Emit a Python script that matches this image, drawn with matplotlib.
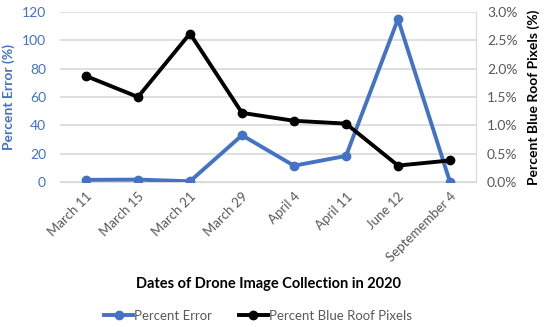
import matplotlib
matplotlib.use("Agg")
import matplotlib.pyplot as plt
from matplotlib.ticker import PercentFormatter

plt.rcParams['font.family'] = ['Lato', 'DejaVu Sans']

dates = ["March 11", "March 15", "March 21", "March 29", "April 4", "April 11", "June 12", "Septemember 4"]
percent_error = [1.5, 1.7, 0.5, 33, 11.5, 18.4, 115, 0]
blue_roof_pct = [1.87, 1.50, 2.62, 1.22, 1.08, 1.03, 0.29, 0.38]

blue = "#4472C4"
grey = "#595959"

fig = plt.figure(figsize=(5.5, 3.27), dpi=100)
ax = fig.add_axes([60/550, 1-182/327, 416/550, 170/327])
ax2 = ax.twinx()

x = list(range(len(dates)))
l1, = ax.plot(x, percent_error, color=blue, lw=2.8, marker='o', ms=6, label="Percent Error", zorder=3)
l2, = ax2.plot(x, blue_roof_pct, color='black', lw=2.8, marker='o', ms=6, label="Percent Blue Roof Pixels", zorder=3)

ax.set_xlim(-0.5, len(dates) - 0.5)
ax.set_ylim(0, 120)
ax.set_yticks([0, 20, 40, 60, 80, 100, 120])
ax2.set_ylim(0, 3.0)
ax2.set_yticks([0, 0.5, 1.0, 1.5, 2.0, 2.5, 3.0])
ax2.yaxis.set_major_formatter(PercentFormatter(decimals=1))

ax.grid(axis='y', color='#d9d9d9', lw=1.2, zorder=0)
ax.set_axisbelow(True)
for a in (ax, ax2):
    for s in a.spines.values():
        s.set_visible(False)
ax.spines['bottom'].set_visible(True)
ax.spines['bottom'].set_color('#d9d9d9')
ax2.spines['right'].set_visible(True)
ax2.spines['right'].set_color('#d9d9d9')

ax.set_xticks(x)
ax.set_xticklabels(dates, rotation=45, ha='right', rotation_mode='anchor', fontsize=9.5, color=grey)
ax.tick_params(axis='x', length=0, pad=6)
ax.tick_params(axis='y', length=0, labelsize=10, labelcolor=blue, pad=10)
ax2.tick_params(axis='y', length=0, labelsize=10, labelcolor=grey, pad=8)

ax.set_ylabel("Percent Error (%)", color=blue, fontsize=10, fontweight='bold', labelpad=5)
ax2.set_ylabel("Percent Blue Roof Pixels (%)", color='black', fontsize=10, fontweight='bold', labelpad=7)
fig.text(268/550, 1-284/327, "Dates of Drone Image Collection in 2020", ha='center', va='center',
         fontsize=10.5, fontweight='bold', color='black')

fig.legend(handles=[l1, l2], loc='center', bbox_to_anchor=(258/550, 1-316/327), ncol=2, frameon=False,
           fontsize=9.5, labelcolor=grey, handlelength=2.2, columnspacing=2.0, handletextpad=0.1)

fig.savefig("out.png", dpi=100)
